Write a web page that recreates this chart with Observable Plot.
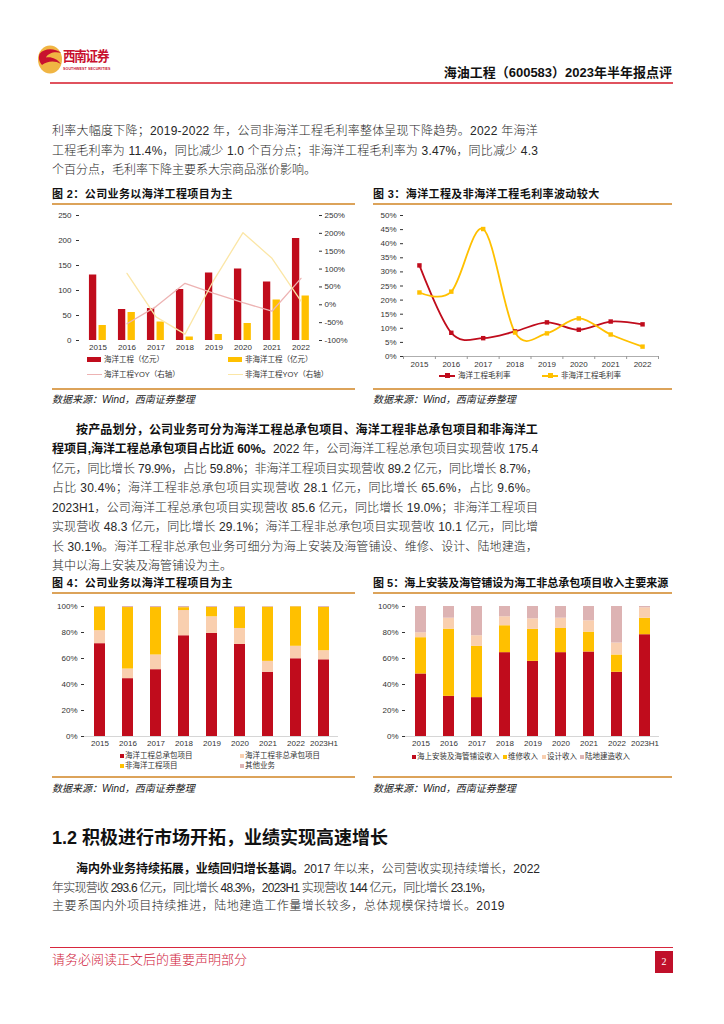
<!DOCTYPE html>
<html><head><meta charset="utf-8">
<script src="https://cdn.jsdelivr.net/npm/d3@7"></script>
<script src="https://cdn.jsdelivr.net/npm/@observablehq/plot@0.6"></script>
<style>
body{margin:0;background:#fff;}
#page{position:relative;width:724px;height:1024px;overflow:hidden;font-family:"Liberation Sans","Noto Sans CJK SC",sans-serif;color:#262626;background:#fff;}
.abs{position:absolute;}
.tl{position:absolute;font-size:12px;line-height:14px;white-space:nowrap;font-weight:300;}
.tl b{font-weight:700;color:#111;}
.ftitle{position:absolute;font-size:11px;font-weight:700;line-height:13px;white-space:nowrap;letter-spacing:0.4px;color:#111;}
.rule{position:absolute;height:1.5px;background:#DCA35A;}
.src{position:absolute;font-size:10px;font-style:italic;line-height:12px;white-space:nowrap;color:#222;}
.lg{position:absolute;font-size:7.5px;line-height:9px;white-space:nowrap;color:#333;}
.sw{position:absolute;}
</style></head>
<body><div id="page">

<!-- header -->
<svg class="abs" style="left:37px;top:45px" width="26" height="29" viewBox="0 0 26 29">
  <ellipse cx="13" cy="14.5" rx="12" ry="14" fill="#F0B543"/>
  <path d="M2.5 9 C 7 3, 18 3, 24 8 C 18 6, 11 8, 9 12.5 C 14 11.5, 20 13.5, 24 19 C 18 15, 10 16, 5 20 C 1.5 16, 1.5 12, 2.5 9 Z" fill="#C8102E"/>
</svg>
<div class="abs" style="left:63px;top:48px;font-size:12.5px;font-weight:700;color:#C8102E;letter-spacing:-1.2px;line-height:16px;transform:scaleY(1.1);transform-origin:top left;">西南证券</div>
<div class="abs" style="left:63px;top:67px;font-size:3.6px;font-weight:700;color:#C8102E;letter-spacing:0.1px;line-height:5px;">SOUTHWEST SECURITIES</div>
<div class="abs" style="right:52px;top:65px;font-size:13px;font-weight:700;line-height:16px;white-space:nowrap;color:#111;">海油工程（600583）2023年半年报点评</div>
<div class="abs" style="left:50px;top:82px;width:623px;height:1.5px;background:#E0525E;"></div>

<!-- figure titles & rules -->
<div class="ftitle" style="left:52px;top:188px;">图 2：公司业务以海洋工程项目为主</div>
<div class="ftitle" style="left:373px;top:188px;">图 3：海洋工程及非海洋工程毛利率波动较大</div>
<div class="rule" style="left:52px;top:203px;width:303px;"></div>
<div class="rule" style="left:373px;top:203px;width:299px;"></div>
<div class="rule" style="left:52px;top:388px;width:303px;"></div>
<div class="rule" style="left:373px;top:388px;width:299px;"></div>
<div class="src" style="left:52px;top:394px;">数据来源：Wind，西南证券整理</div>
<div class="src" style="left:373px;top:394px;">数据来源：Wind，西南证券整理</div>

<div class="ftitle" style="left:52px;top:577px;">图 4：公司业务以海洋工程项目为主</div>
<div class="ftitle" style="left:373px;top:577px;letter-spacing:0px;">图 5：海上安装及海管铺设为海工非总承包项目收入主要来源</div>
<div class="rule" style="left:52px;top:592px;width:303px;"></div>
<div class="rule" style="left:373px;top:592px;width:299px;"></div>
<div class="rule" style="left:52px;top:776px;width:303px;"></div>
<div class="rule" style="left:373px;top:776px;width:299px;"></div>
<div class="src" style="left:52px;top:783px;">数据来源：Wind，西南证券整理</div>
<div class="src" style="left:373px;top:783px;">数据来源：Wind，西南证券整理</div>

<div class="abs" style="left:52px;top:827px;font-size:18px;font-weight:700;line-height:22px;white-space:nowrap;color:#111;">1.2 积极进行市场开拓，业绩实现高速增长</div>

<!-- footer -->
<div class="abs" style="left:50px;top:947px;width:623px;height:1.2px;background:#D7263D;"></div>
<div class="abs" style="left:52px;top:952px;font-size:13px;line-height:16px;color:#D0203A;white-space:nowrap;font-weight:300;">请务必阅读正文后的重要声明部分</div>
<div class="abs" style="left:655px;top:951px;width:18px;height:22px;background:#C0102A;color:#fff;font-size:10px;line-height:22px;text-align:center;font-family:'Liberation Serif',serif;">2</div>
</div>

<script>
// ---------------- data ----------------
const years = ["2015","2016","2017","2018","2019","2020","2021","2022"];
const years9 = ["2015","2016","2017","2018","2019","2020","2021","2022","2023H1"];

// Fig 2: revenue (亿元) and YoY (%)
const marineRev    = [131, 62, 64, 102, 135, 143, 117, 204];
const nonMarineRev = [30, 56, 37, 7, 12, 34, 81, 89];
const marineYoY    = [null, -53, -5, 60, 32, 6, -18, 74];
const nonMarineYoY = [null, 88, -34, -82, 70, 202, 130, 10];
const fig2LeftTicks  = [0, 50, 100, 150, 200, 250];
const fig2RightTicks = [-100, -50, 0, 50, 100, 150, 200, 250];
const fig2Labels = ["海洋工程（亿元）", "非海洋工程（亿元）", "海洋工程YOY（右轴）", "非海洋工程YOY（右轴）"];

// Fig 3: gross margin (%)
const marineMargin    = [32.3, 8.4, 6.5, 8.9, 12.1, 9.5, 12.4, 11.4];
const nonMarineMargin = [22.7, 23.0, 45.2, 8.5, 8.2, 13.5, 7.8, 3.5];
const fig3Ticks = [0, 5, 10, 15, 20, 25, 30, 35, 40, 45, 50];
const fig3Labels = ["海洋工程毛利率", "非海洋工程毛利率"];

// Fig 4: revenue mix (%)
const fig4Series = ["海洋工程总承包项目", "海洋工程非总承包项目", "非海洋工程项目", "其他业务"];
const epcShare       = [71.4, 44.5, 51.4, 77.5, 79.3, 70.8, 49.4, 59.8, 59.0];
const nonEpcShare    = [10.0, 7.4, 11.3, 19.4, 12.8, 12.3, 8.4, 9.6, 7.0];
const nonMarineShare = [18.2, 47.3, 36.5, 2.2, 7.2, 16.3, 41.7, 30.4, 33.3];
const otherShare     = [0.4, 0.8, 0.8, 0.9, 0.7, 0.6, 0.5, 0.2, 0.7];

// Fig 5: non-EPC revenue mix (%)
const fig5Series = ["海上安装及海管铺设收入", "维修收入", "设计收入", "陆地建造收入"];
const installShare = [48.1, 30.9, 29.9, 64.5, 57.8, 64.5, 65.0, 49.4, 78.3];
const repairShare  = [27.9, 51.7, 39.4, 20.7, 24.6, 18.6, 15.3, 13.3, 12.7];
const designShare  = [3.8, 8.4, 8.2, 6.9, 8.1, 7.9, 8.7, 9.2, 8.0];
const landShare    = [20.2, 9.0, 22.5, 7.9, 9.5, 9.0, 11.0, 28.1, 1.0];
const pctTicks = [0, 20, 40, 60, 80, 100];

// ---------------- styles ----------------
const RED = "#C00C1C", YEL = "#FFC000", PEACH = "#F9CFAF", MAUVE = "#DDB3B3";
const PINKL = "#EDB3B3", YELL = "#FBE6A6";
const axisStyle = {fontFamily: "'Liberation Sans', Arial, sans-serif", fontSize: "8px", color: "#333", background: "transparent", overflow: "visible"};

const page = document.getElementById("page");
function place(el, left, top) {
  el.style.position = "absolute"; el.style.left = left + "px"; el.style.top = top + "px";
  page.appendChild(el);
}

// ---------------- text ----------------
const textLines = [
  [124, 52, "利率大幅度下降；2019-2022 年，公司非海洋工程毛利率整体呈现下降趋势。2022 年海洋", 538],
  [144, 52, "工程毛利率为 11.4%，同比减少 1.0 个百分点；非海洋工程毛利率为 3.47%，同比减少 4.3", 538],
  [163, 52, "个百分点，毛利率下降主要系大宗商品涨价影响。", null],
  [423, 76, "<b>按产品划分，公司业务可分为海洋工程总承包项目、海洋工程非总承包项目和非海洋工</b>", 538],
  [442, 52, "<b>程项目,海洋工程总承包项目占比近 60%。</b>2022 年，公司海洋工程总承包项目实现营收 175.4", 538],
  [462, 52, "亿元，同比增长 79.9%，占比 59.8%；非海洋工程项目实现营收 89.2 亿元，同比增长 8.7%，", 538],
  [481, 52, "占比 30.4%；海洋工程非总承包项目实现营收 28.1 亿元，同比增长 65.6%，占比 9.6%。", 538],
  [501, 52, "2023H1，公司海洋工程总承包项目实现营收 85.6 亿元，同比增长 19.0%；非海洋工程项目", 538],
  [520, 52, "实现营收 48.3 亿元，同比增长 29.1%；海洋工程非总承包项目实现营收 10.1 亿元，同比增", 538],
  [540, 52, "长 30.1%。海洋工程非总承包业务可细分为海上安装及海管铺设、维修、设计、陆地建造，", 538],
  [559, 52, "其中以海上安装及海管铺设为主。", null],
  [862, 76, "<b>海内外业务持续拓展，业绩回归增长基调。</b>2017 年以来，公司营收实现持续增长，2022", 540],
  [881, 52, "年实现营收 293.6 亿元，同比增长 48.3%，2023H1 实现营收 144 亿元，同比增长 23.1%，", 492],
  [899, 52, "主要系国内外项目持续推进，陆地建造工作量增长较多，总体规模保持增长。2019", 505],
];
const fitList = [];
for (const [top, left, html, right] of textLines) {
  const d = document.createElement("div");
  d.className = "tl"; d.innerHTML = html;
  place(d, left, top);
  if (right) fitList.push([d, right - left]);
}
function fitAll() {
  for (const [d, target] of fitList) {
    d.style.letterSpacing = "0px";
    const w = d.getBoundingClientRect().width;
    const n = d.textContent.length;
    d.style.letterSpacing = ((target - w) / n) + "px";
  }
}
fitAll();
if (document.fonts && document.fonts.ready) document.fonts.ready.then(fitAll);

// ---------------- legends ----------------
function legend(left, top, kind, color, label) {
  const s = document.createElement("div"); s.className = "sw";
  if (kind === "rect") { s.style.width = "14px"; s.style.height = "5px"; s.style.background = color; place(s, left, top + 2); }
  else if (kind === "line") { s.style.width = "15px"; s.style.height = "1.2px"; s.style.background = color; place(s, left, top + 4); }
  else if (kind === "sq") { s.style.width = "4px"; s.style.height = "4px"; s.style.background = color; place(s, left, top + 2.5); }
  else if (kind === "lm") {
    s.style.width = "16px"; s.style.height = "2px"; s.style.background = color; place(s, left, top + 3.5);
    const m = document.createElement("div"); m.className = "sw";
    m.style.width = "5px"; m.style.height = "5px"; m.style.background = color; place(m, left + 5.5, top + 2);
  }
  const t = document.createElement("div"); t.className = "lg"; t.textContent = label;
  const off = kind === "sq" ? 5 : kind === "lm" ? 19 : 17;
  place(t, left + off, top);
}
legend(87, 355, "rect", RED, fig2Labels[0]);
legend(228, 355, "rect", YEL, fig2Labels[1]);
legend(87, 370, "line", PINKL, fig2Labels[2]);
legend(228, 370, "line", YELL, fig2Labels[3]);
legend(439, 371, "lm", RED, fig3Labels[0]);
legend(542, 371, "lm", YEL, fig3Labels[1]);
const c4 = [RED, PEACH, YEL, MAUVE];
legend(120, 751, "sq", c4[0], fig4Series[0]);
legend(240, 751, "sq", c4[1], fig4Series[1]);
legend(120, 761, "sq", c4[2], fig4Series[2]);
legend(240, 761, "sq", c4[3], fig4Series[3]);
const c5 = [RED, YEL, PEACH, MAUVE];
legend(412, 752, "sq", c5[0], fig5Series[0]);
legend(503, 752, "sq", c5[1], fig5Series[1]);
legend(542, 752, "sq", c5[2], fig5Series[2]);
legend(580, 752, "sq", c5[3], fig5Series[3]);

// ---------------- Fig 2 ----------------
{
  const W = 303, H = 150, mL = 27, mR = 37;
  const bw = (W - mL - mR) / years.length;
  const toLeft = p => (p + 100) * 250 / 350;
  const rows = years.map((y, i) => ({year: y, m: marineRev[i], n: nonMarineRev[i], my: marineYoY[i], ny: nonMarineYoY[i]}));
  const chart = Plot.plot({
    width: W, height: H, marginLeft: mL, marginRight: mR, marginTop: 10, marginBottom: 15,
    style: axisStyle,
    x: {type: "band", domain: years, padding: 0},
    y: {domain: [0, 250]},
    marks: [
      Plot.barY(rows, {x: "year", y: "m", fill: RED, insetLeft: bw / 2 - 9, insetRight: bw / 2 + 0.8}),
      Plot.barY(rows, {x: "year", y: "n", fill: YEL, insetLeft: bw / 2 + 0.6, insetRight: bw / 2 - 8.8}),
      Plot.line(rows.filter(d => d.my != null), {x: "year", y: d => toLeft(d.my), stroke: PINKL, strokeWidth: 1.3}),
      Plot.line(rows.filter(d => d.ny != null), {x: "year", y: d => toLeft(d.ny), stroke: YELL, strokeWidth: 1.3}),
      Plot.axisY({ticks: fig2LeftTicks, tickSize: 3, tickPadding: 5, label: null}),
      Plot.axisY({anchor: "right", ticks: fig2RightTicks.map(toLeft), tickFormat: d => Math.round(d * 350 / 250 - 100) + "%", tickSize: 3, tickPadding: 3, label: null}),
      Plot.axisX({tickSize: 0, tickPadding: 4, label: null})
    ]
  });
  place(chart, 52, 205);
}

// ---------------- Fig 3 ----------------
{
  const rows = years.map((y, i) => ({i, year: y, m: marineMargin[i], n: nonMarineMargin[i]}));
  const chart = Plot.plot({
    width: 299, height: 168, marginLeft: 30, marginRight: 14, marginTop: 10, marginBottom: 17,
    style: axisStyle,
    x: {domain: [-0.5, years.length - 0.5]},
    y: {domain: [0, 50]},
    marks: [
      Plot.ruleY([0], {stroke: "#999", strokeWidth: 0.8}),
      Plot.axisX({ticks: d3.range(years.length + 1).map(i => i - 0.5), tickFormat: () => "", tickSize: 3, stroke: "#999", label: null}),
      Plot.axisX({ticks: d3.range(years.length), tickFormat: i => years[i], tickSize: 0, tickPadding: 5, label: null}),
      Plot.axisY({ticks: fig3Ticks, tickFormat: d => d + "%", tickSize: 3, tickPadding: 4, label: null}),
      Plot.line(rows, {x: "i", y: "m", stroke: RED, strokeWidth: 1.8, curve: "cardinal"}),
      Plot.line(rows, {x: "i", y: "n", stroke: YEL, strokeWidth: 1.8, curve: "cardinal"}),
      Plot.dot(rows, {x: "i", y: "m", symbol: "square", fill: RED, r: 2.5}),
      Plot.dot(rows, {x: "i", y: "n", symbol: "square", fill: YEL, r: 2.5})
    ]
  });
  place(chart, 373, 205);
}

// ---------------- Fig 4 & 5 ----------------
function stacked(series, arrays, colors, W, mL, mR) {
  const long = years9.flatMap((y, i) => series.map((s, k) => ({year: y, series: s, value: arrays[k][i]})));
  return Plot.plot({
    width: W, height: 155, marginLeft: mL, marginRight: mR, marginTop: 10, marginBottom: 15,
    style: axisStyle,
    x: {type: "band", domain: years9, paddingInner: 0.62, paddingOuter: 0.31},
    y: {domain: [0, 100]},
    color: {domain: series, range: colors},
    marks: [
      Plot.barY(long, {x: "year", y: "value", fill: "series"}),
      Plot.ruleY([0], {stroke: "#ccc", strokeWidth: 0.8}),
      Plot.axisY({ticks: pctTicks, tickFormat: d => d + "%", tickSize: 3, tickPadding: 4, label: null}),
      Plot.axisX({tickSize: 0, tickPadding: 4, label: null})
    ]
  });
}
place(stacked(fig4Series, [epcShare, nonEpcShare, nonMarineShare, otherShare], c4, 303, 32, 17), 52, 596);
place(stacked(fig5Series, [installShare, repairShare, designShare, landShare], c5, 299, 32, 13), 373, 596);
</script>
</body></html>
